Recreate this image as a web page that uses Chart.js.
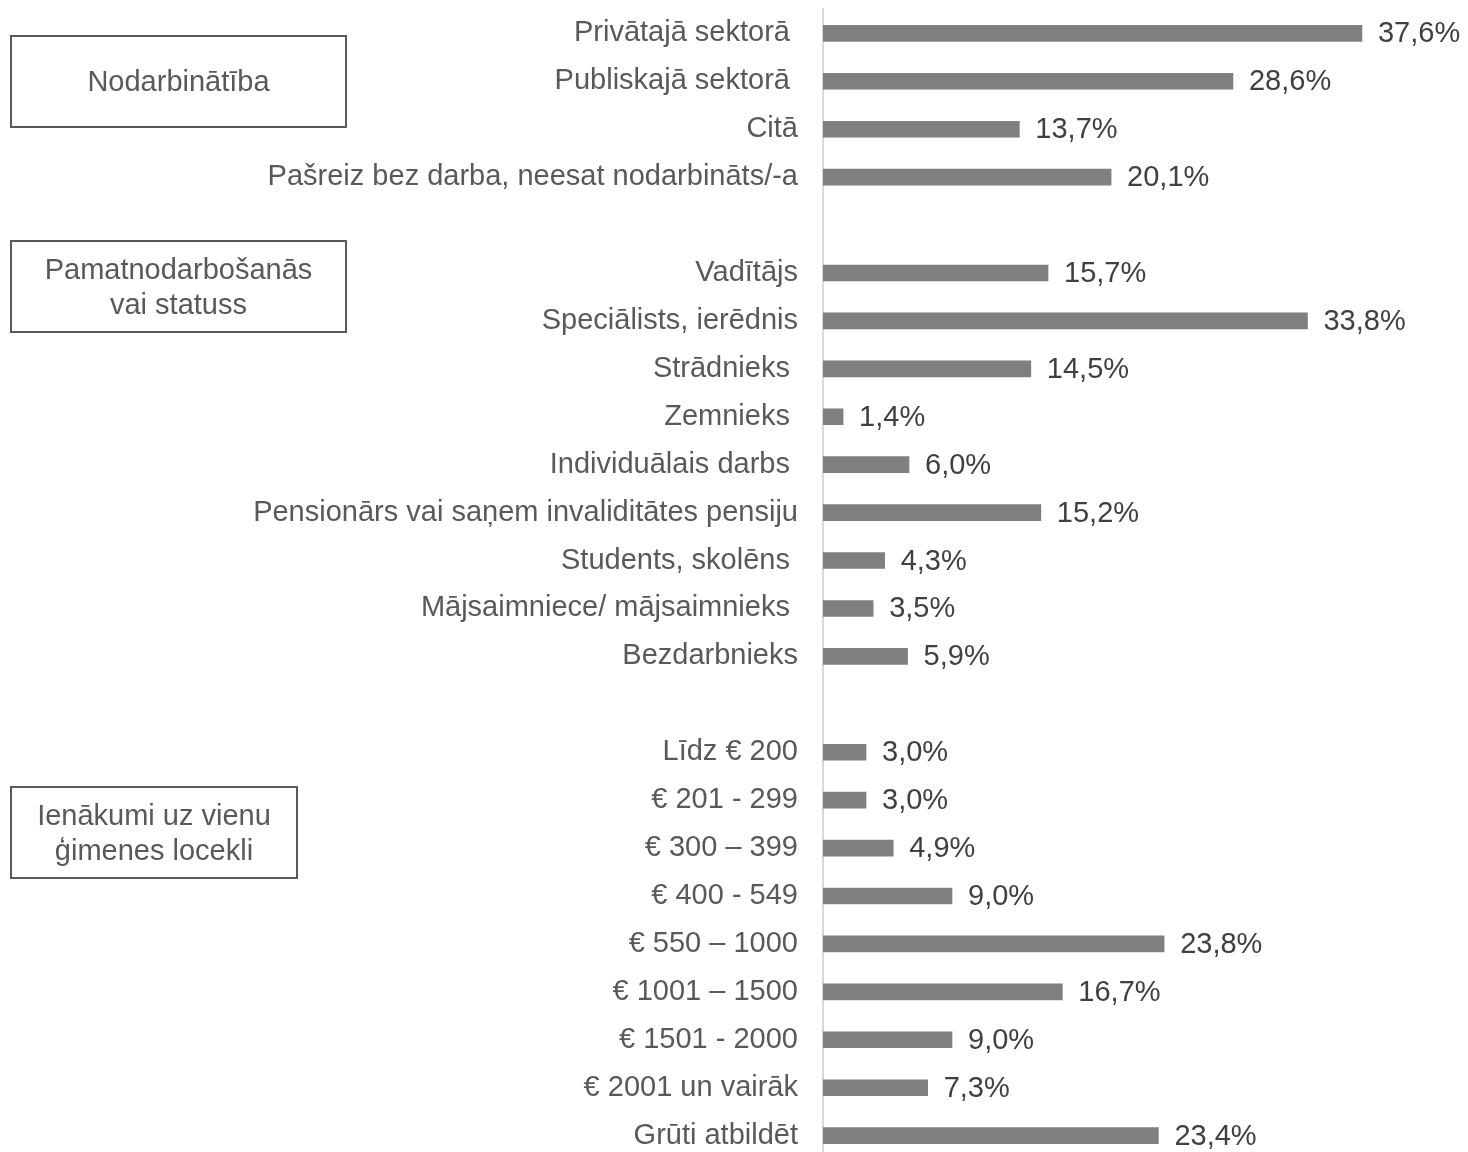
<!DOCTYPE html>
<html>
<head>
<meta charset="utf-8">
<script src="https://cdn.jsdelivr.net/npm/chart.js@4/dist/chart.umd.min.js"></script>
<style>
    html, body { margin: 0; padding: 0; background: #fff; overflow: hidden; }
    #wrap { position: relative; width: 1468px; height: 1152px; overflow: hidden; }
    /* kanva ir augstāka par logu, lai ass sāktos ~9px un beigtos ~1159px */
    #chartBox { position: absolute; left: 0; top: -33px; width: 1468px; height: 1235px; }
    .group-box {
        position: absolute;
        box-sizing: border-box;
        border: 2px solid #595959;
        display: flex;
        align-items: center;
        justify-content: center;
        text-align: center;
        font-family: "Liberation Sans", Arial, sans-serif;
        font-size: 29px;
        line-height: 35px;
        color: #595959;
    }
</style>
</head>
<body>
<div id="wrap">
    <div id="chartBox"><canvas id="barChart"></canvas></div>
    <div class="group-box" style="left:10px; top:35px; width:337px; height:93px;">Nodarbinātība</div>
    <div class="group-box" style="left:10px; top:240px; width:337px; height:93px;">Pamatnodarbošanās<br>vai statuss</div>
    <div class="group-box" style="left:10px; top:786px; width:288px; height:93px;">Ienākumi uz vienu<br>ģimenes locekli</div>
</div>
<script>
// kategorijas (tukšās rindas = atstarpes starp grupām)
const categories = [
    'Privātajā sektorā ', 'Publiskajā sektorā ', 'Citā', 'Pašreiz bez darba, neesat nodarbināts/-a',
    '',
    'Vadītājs', 'Speciālists, ierēdnis', 'Strādnieks ', 'Zemnieks ', 'Individuālais darbs ',
    'Pensionārs vai saņem invaliditātes pensiju', 'Students, skolēns ', 'Mājsaimniece/ mājsaimnieks ', 'Bezdarbnieks',
    '',
    'Līdz € 200', '€ 201 - 299', '€ 300 – 399', '€ 400 - 549', '€ 550 – 1000',
    '€ 1001 – 1500', '€ 1501 - 2000', '€ 2001 un vairāk', 'Grūti atbildēt'
];

// procenti
const values = [
    37.6, 28.6, 13.7, 20.1,
    null,
    15.7, 33.8, 14.5, 1.4, 6.0, 15.2, 4.3, 3.5, 5.9,
    null,
    3.0, 3.0, 4.9, 9.0, 23.8, 16.7, 9.0, 7.3, 23.4
];

const xMax = 45;

// vērtību uzraksti pie stabiņiem
const valueLabels = {
    id: 'valueLabels',
    afterDatasetsDraw(chart) {
        const ctx = chart.ctx;
        const meta = chart.getDatasetMeta(0);
        ctx.save();
        ctx.font = '29px "Liberation Sans", Arial, sans-serif';
        ctx.fillStyle = '#404040';
        ctx.textAlign = 'left';
        ctx.textBaseline = 'middle';
        meta.data.forEach((bar, i) => {
            const v = values[i];
            if (v === null) return;
            ctx.fillText(v.toFixed(1).replace('.', ',') + '%', bar.x + 16, bar.y + 1);
        });
        ctx.restore();
    }
};

new Chart(document.getElementById('barChart'), {
    type: 'bar',
    data: {
        labels: categories,
        datasets: [{
            data: values,
            backgroundColor: '#7f7f7f',
            barThickness: 16
        }]
    },
    options: {
        indexAxis: 'y',
        responsive: true,
        maintainAspectRatio: false,
        animation: false,
        layout: { padding: 0 },
        plugins: {
            legend: { display: false },
            tooltip: { enabled: false }
        },
        scales: {
            x: {
                display: false,
                min: 0,
                max: xMax
            },
            y: {
                afterFit(scale) { scale.width = 823; },
                grid: { display: false, drawTicks: false },
                border: { display: true, color: '#d9d9d9', width: 2 },
                ticks: {
                    padding: 25,
                    color: '#595959',
                    autoSkip: false,
                    font: { family: '"Liberation Sans", Arial, sans-serif', size: 29, lineHeight: 1.2 }
                }
            }
        }
    },
    plugins: [valueLabels]
});
</script>
</body>
</html>
